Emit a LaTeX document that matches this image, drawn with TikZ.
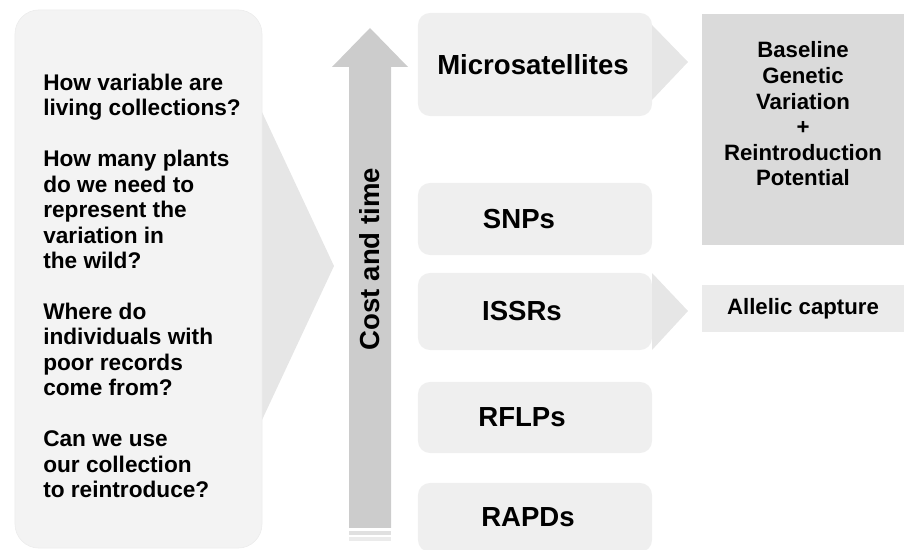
\documentclass[tikz,border=0pt]{standalone}
\usepackage{fontspec}
\setmainfont{Liberation Sans}
\usepackage{tikz}
\usetikzlibrary{positioning}

\begin{document}
\begin{tikzpicture}[x=0.025cm,y=-0.025cm]
\tikzstyle{method}=[rectangle,rounded corners=0.3cm,fill=methodgray,text=black,font=\fontsize{19.6}{22}\selectfont\bfseries,minimum width=5.85cm,inner sep=0pt]
\tikzstyle{outcome}=[rectangle,fill=outgray,minimum width=5.2cm,inner sep=0pt]
\tikzstyle{smalltext}=[font=\fontsize{15.8}{18.2}\selectfont\bfseries,inner sep=0pt]
\tikzstyle{chevron}=[fill=chevgray]
\definecolor{methodgray}{RGB}{239,239,239}
\definecolor{outgray}{RGB}{235,235,235}
\definecolor{basegray}{RGB}{218,218,218}
\definecolor{chevgray}{RGB}{230,230,230}
\definecolor{arrowgray}{RGB}{204,204,204}
\definecolor{qgray}{RGB}{243,243,243}
\useasboundingbox (0,0) rectangle (904,550);

% chevron behind the questions
\fill[chevron] (262,112)--(334,266)--(262,420)--cycle;
\node[rectangle,rounded corners=0.6cm,fill=qgray,draw=outgray,minimum width=6.175cm,minimum height=13.45cm] (questions) at (138.5,279){};
\node[smalltext,align=left,anchor=west,font=\fontsize{16.1}{18.1}\selectfont\bfseries] (questext) at (43,286){How variable are\\living collections?\\[18.1pt]How many plants\\do we need to\\represent the\\variation in\\the wild?\\[18.1pt]Where do\\individuals with\\poor records\\come from?\\[18.1pt]Can we use\\our collection\\to reintroduce?};

% cost and time arrow
\fill[arrowgray] (349,528)--(349,67)--(332,67)--(370,28)--(408,67)--(391,67)--(391,528)--cycle;
\fill[arrowgray!60] (349,531) rectangle (391,535);
\fill[arrowgray!40] (349,537) rectangle (391,541);
\node[rotate=90,font=\fontsize{19.6}{22}\selectfont\bfseries,inner sep=0pt] (cost) at (370,259){Cost and time};

% marker methods
\node[method,minimum height=2.575cm] (micro) at (535,64.5){Microsatellites\rule{1mm}{0pt}};
\node[method,minimum height=1.8cm] (snp) at (535,219){SNPs\rule{8mm}{0pt}};
\node[method,minimum height=1.925cm] (issr) at (535,311.5){ISSRs\rule{6.5mm}{0pt}};
\node[method,minimum height=1.775cm] (rflp) at (535,417.5){RFLPs\rule{6.5mm}{0pt}};
\node[method,minimum height=1.725cm] (rapd) at (535,517.5){RAPDs\rule{3.5mm}{0pt}};

% outcomes
\fill[chevron] (652,25)--(688,62)--(652,100)--cycle;
\fill[chevron] (652,273)--(688,311)--(652,350)--cycle;
\node[outcome,fill=basegray,minimum height=5.775cm] (baseline) at (806,129.5){};
\node[smalltext,align=center] (basetext) at (803,114){Baseline\\Genetic\\Variation\\+\\Reintroduction\\Potential};
\node[outcome,smalltext,minimum width=5.2cm,minimum height=1.175cm,fill=outgray] (allelic) at (806,308.5){Allelic capture\rule{1.5mm}{0pt}};

\end{tikzpicture}
\end{document}
